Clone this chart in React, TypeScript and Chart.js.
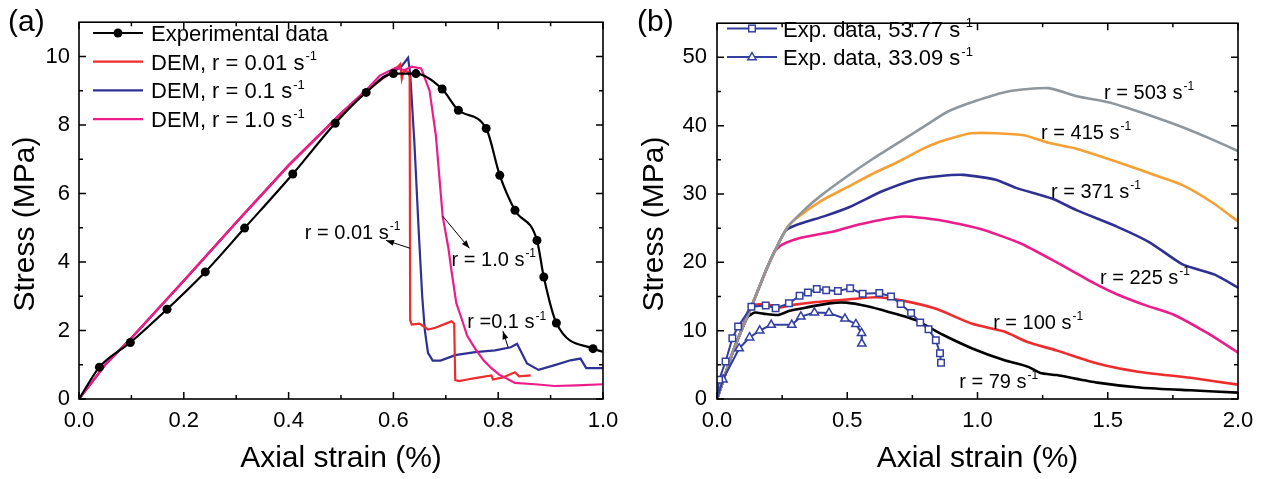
import React, { useEffect, useRef } from 'react';
import { Chart, registerables } from 'chart.js';

Chart.register(...registerables);

const FONT = '"Liberation Sans", Arial, Helvetica, sans-serif';

const RED = '#ee2c2c';
const BLUE = '#2e3192';
const PINK = '#ec1c8c';
const GRAY = '#8f979c';
const ORANGE = '#f5a034';
const EXP_BLUE = '#3340a0';

// ---------------- Panel (a) ----------------
const A_X_MAJOR = [0, 0.2, 0.4, 0.6, 0.8, 1.0];
const A_X_MINOR = [0.1, 0.3, 0.5, 0.7, 0.9];
const A_Y_MAJOR = [0, 2, 4, 6, 8, 10];
const A_Y_MINOR = [1, 3, 5, 7, 9];

const EXP_A_X = [0, 0.039, 0.098, 0.168, 0.241, 0.316, 0.408, 0.489, 0.548, 0.6, 0.643, 0.693, 0.724, 0.777, 0.803, 0.832, 0.874, 0.887, 0.911, 0.981, 1.0];
const EXP_A_Y = [0, 0.93, 1.65, 2.62, 3.71, 4.99, 6.57, 8.05, 8.95, 9.5, 9.5, 9.05, 8.43, 7.9, 6.53, 5.51, 4.63, 3.56, 2.22, 1.47, 1.38];

const DEM001_X = [0, 0.02, 0.05, 0.1, 0.2, 0.3, 0.4, 0.5, 0.55, 0.58, 0.6, 0.613, 0.616, 0.62, 0.628, 0.631, 0.632, 0.635, 0.65, 0.666, 0.68, 0.7, 0.711, 0.716, 0.718, 0.726, 0.741, 0.756, 0.787, 0.79, 0.809, 0.832, 0.84, 0.862];
const DEM001_Y = [0, 0.4, 1.0, 1.78, 3.45, 5.15, 6.82, 8.33, 9.0, 9.36, 9.56, 9.77, 9.35, 9.6, 9.55, 9.4, 2.3, 2.17, 2.2, 2.03, 2.08, 2.2, 2.27, 2.2, 0.55, 0.52, 0.57, 0.61, 0.69, 0.57, 0.63, 0.78, 0.66, 0.69];

const DEM01_X = [0, 0.02, 0.05, 0.1, 0.2, 0.3, 0.4, 0.5, 0.55, 0.58, 0.6, 0.615, 0.628, 0.632, 0.64, 0.648, 0.655, 0.66, 0.666, 0.675, 0.69, 0.718, 0.756, 0.794, 0.824, 0.836, 0.855, 0.877, 0.908, 0.938, 0.957, 0.968, 1.0];
const DEM01_Y = [0, 0.4, 1.0, 1.78, 3.45, 5.15, 6.82, 8.33, 9.0, 9.4, 9.55, 9.7, 9.96, 9.5, 7.5, 5.0, 3.0, 2.0, 1.35, 1.12, 1.12, 1.28, 1.37, 1.42, 1.51, 1.61, 1.04, 0.85, 0.99, 1.13, 1.18, 0.9, 0.9];

const DEM1_X = [0, 0.02, 0.05, 0.1, 0.2, 0.3, 0.4, 0.5, 0.55, 0.574, 0.606, 0.62, 0.635, 0.653, 0.657, 0.669, 0.681, 0.694, 0.705, 0.711, 0.72, 0.73, 0.741, 0.756, 0.772, 0.787, 0.802, 0.832, 0.87, 0.908, 0.95, 1.0];
const DEM1_Y = [0, 0.4, 1.0, 1.78, 3.45, 5.15, 6.82, 8.35, 9.05, 9.44, 9.68, 9.6, 9.7, 9.65, 9.49, 9.0, 7.7, 5.34, 4.4, 3.73, 2.8, 2.35, 1.84, 1.47, 1.13, 0.9, 0.71, 0.47, 0.43, 0.38, 0.4, 0.43];

// ---------------- Panel (b) ----------------
const B_X_MAJOR = [0, 0.5, 1.0, 1.5, 2.0];
const B_X_MINOR = [0.25, 0.75, 1.25, 1.75];
const B_Y_MAJOR = [0, 10, 20, 30, 40, 50];
const B_Y_MINOR = [5, 15, 25, 35, 45];

const R503_X = [0, 0.03, 0.06, 0.093, 0.132, 0.19, 0.268, 0.33, 0.4, 0.5, 0.6, 0.7, 0.8, 0.883, 0.992, 1.117, 1.273, 1.382, 1.506, 1.6, 1.693, 1.8, 1.9, 2.0];
const R503_Y = [0, 3.4, 6.8, 10.0, 13.5, 19.0, 25.0, 27.5, 29.8, 32.6, 35.2, 37.6, 40.0, 42.0, 43.6, 45.0, 45.5, 44.3, 43.4, 42.3, 41.1, 39.6, 38.0, 36.3];

const R415_X = [0, 0.03, 0.06, 0.093, 0.132, 0.19, 0.268, 0.3, 0.4, 0.5, 0.6, 0.7, 0.79, 0.852, 0.93, 0.977, 1.07, 1.179, 1.273, 1.382, 1.537, 1.693, 1.787, 1.9, 2.0];
const R415_Y = [0, 3.4, 6.8, 10.0, 13.5, 19.0, 25.0, 26.3, 29.0, 31.0, 33.0, 34.8, 36.6, 37.6, 38.5, 38.9, 38.9, 38.6, 37.5, 36.6, 34.7, 32.6, 31.3, 28.8, 26.0];

const R371_X = [0, 0.03, 0.06, 0.093, 0.132, 0.19, 0.262, 0.3, 0.416, 0.509, 0.634, 0.759, 0.85, 0.946, 1.07, 1.148, 1.288, 1.382, 1.537, 1.662, 1.787, 1.911, 2.0];
const R371_Y = [0, 3.4, 6.8, 10.0, 13.5, 19.0, 24.6, 25.4, 26.8, 28.1, 30.4, 32.1, 32.6, 32.8, 32.1, 30.9, 29.3, 27.6, 25.2, 22.9, 19.7, 18.2, 16.3];

const R225_X = [0, 0.03, 0.06, 0.093, 0.132, 0.19, 0.221, 0.25, 0.322, 0.447, 0.54, 0.712, 0.852, 1.008, 1.164, 1.304, 1.46, 1.537, 1.646, 1.755, 1.88, 2.0];
const R225_Y = [0, 3.4, 6.8, 10.0, 13.5, 19.0, 21.6, 22.6, 23.6, 24.5, 25.5, 26.7, 26.2, 24.9, 22.8, 20.0, 16.7, 15.3, 13.7, 12.3, 9.7, 6.8];

const R100_X = [0, 0.03, 0.06, 0.093, 0.118, 0.138, 0.188, 0.239, 0.278, 0.381, 0.509, 0.611, 0.713, 0.841, 0.98, 1.1, 1.195, 1.304, 1.46, 1.616, 1.818, 2.0];
const R100_Y = [0, 3.4, 6.8, 10.0, 12.7, 13.7, 13.9, 13.4, 13.7, 14.2, 14.6, 14.9, 14.4, 13.2, 11.0, 9.9, 8.3, 7.1, 5.2, 4.0, 3.1, 2.1];

const R79_X = [0, 0.03, 0.06, 0.093, 0.118, 0.145, 0.177, 0.235, 0.279, 0.343, 0.432, 0.496, 0.573, 0.662, 0.765, 0.867, 0.98, 1.101, 1.195, 1.241, 1.304, 1.46, 1.631, 1.818, 2.0];
const R79_Y = [0, 3.4, 6.8, 10.0, 12.0, 12.65, 12.5, 12.3, 12.9, 13.4, 14.0, 14.1, 13.6, 12.7, 11.5, 9.4, 7.4, 5.7, 4.7, 3.8, 3.5, 2.4, 1.65, 1.27, 0.94];

const SQ_X = [0, 0.008, 0.033, 0.059, 0.081, 0.132, 0.187, 0.225, 0.276, 0.317, 0.349, 0.383, 0.419, 0.464, 0.511, 0.559, 0.623, 0.668, 0.705, 0.745, 0.78, 0.812, 0.84, 0.856, 0.86];
const SQ_Y = [0, 2.8, 5.5, 8.9, 10.6, 13.5, 13.7, 13.3, 14.0, 15.1, 15.6, 16.1, 15.9, 15.8, 16.2, 15.4, 15.5, 15.0, 13.9, 12.6, 11.2, 10.2, 8.6, 6.7, 5.3];

const TRI_X = [0, 0.023, 0.085, 0.125, 0.164, 0.208, 0.287, 0.322, 0.374, 0.43, 0.491, 0.533, 0.555, 0.556];
const TRI_Y = [0, 2.85, 7.4, 9.0, 10.0, 10.85, 10.85, 12.05, 12.65, 12.6, 11.75, 10.95, 9.65, 8.1];

// ---------------- helpers ----------------
const pts = (xs: number[], ys: number[]) => xs.map((x, i) => ({ x, y: ys[i] }));

function drawRich(ctx: CanvasRenderingContext2D, x: number, baseline: number, main: string, sup: string | undefined, size: number, align: 'left' | 'center' = 'left') {
  ctx.textBaseline = 'alphabetic';
  ctx.textAlign = 'left';
  ctx.font = `${size}px ${FONT}`;
  const w1 = ctx.measureText(main).width;
  const ss = Math.round(size * 0.6);
  ctx.font = `${ss}px ${FONT}`;
  const w2 = sup ? ctx.measureText(sup).width + 1 : 0;
  const x0 = align === 'center' ? x - (w1 + w2) / 2 : x;
  ctx.font = `${size}px ${FONT}`;
  ctx.fillText(main, x0, baseline);
  if (sup) {
    ctx.font = `${ss}px ${FONT}`;
    ctx.fillText(sup, x0 + w1 + 1, baseline - size * 0.42);
  }
}

function drawArrow(ctx: CanvasRenderingContext2D, x1: number, y1: number, x2: number, y2: number) {
  ctx.lineWidth = 1;
  ctx.beginPath();
  ctx.moveTo(x1, y1);
  ctx.lineTo(x2, y2);
  ctx.stroke();
  const a = Math.atan2(y2 - y1, x2 - x1);
  const L = 8, W = 3;
  const c = Math.cos(a), s = Math.sin(a);
  ctx.beginPath();
  ctx.moveTo(x2, y2);
  ctx.lineTo(x2 - L * c + W * s, y2 - L * s - W * c);
  ctx.lineTo(x2 - L * c - W * s, y2 - L * s + W * c);
  ctx.closePath();
  ctx.fill();
}

function drawMarker(ctx: CanvasRenderingContext2D, kind: string, x: number, y: number, color: string) {
  ctx.save();
  if (kind === 'circle') {
    ctx.fillStyle = color;
    ctx.beginPath();
    ctx.arc(x, y, 4.5, 0, Math.PI * 2);
    ctx.fill();
  } else if (kind === 'rect') {
    ctx.fillStyle = '#fff';
    ctx.strokeStyle = color;
    ctx.lineWidth = 1.5;
    ctx.fillRect(x - 3.3, y - 3.3, 6.6, 6.6);
    ctx.strokeRect(x - 3.3, y - 3.3, 6.6, 6.6);
  } else if (kind === 'triangle') {
    ctx.fillStyle = '#fff';
    ctx.strokeStyle = color;
    ctx.lineWidth = 1.5;
    ctx.beginPath();
    ctx.moveTo(x, y - 4.5);
    ctx.lineTo(x + 4.2, y + 2.8);
    ctx.lineTo(x - 4.2, y + 2.8);
    ctx.closePath();
    ctx.fill();
    ctx.stroke();
  }
  ctx.restore();
}

const decorPlugin = {
  id: 'decor',
  afterDraw(chart: any, _args: any, o: any) {
    const { ctx, chartArea: ca } = chart;
    const sx = chart.scales.x;
    const sy = chart.scales.y;
    ctx.save();
    ctx.strokeStyle = '#000';
    ctx.fillStyle = '#000';
    // ticks
    const tickX = (vals: number[], len: number) => {
      ctx.beginPath();
      vals.forEach((v) => {
        const p = sx.getPixelForValue(v);
        ctx.moveTo(p, ca.bottom);
        ctx.lineTo(p, ca.bottom - len);
        ctx.moveTo(p, ca.top);
        ctx.lineTo(p, ca.top + len);
      });
      ctx.stroke();
    };
    const tickY = (vals: number[], len: number) => {
      ctx.beginPath();
      vals.forEach((v) => {
        const p = sy.getPixelForValue(v);
        ctx.moveTo(ca.left, p);
        ctx.lineTo(ca.left + len, p);
        ctx.moveTo(ca.right, p);
        ctx.lineTo(ca.right - len, p);
      });
      ctx.stroke();
    };
    ctx.lineWidth = 1.5;
    tickX(o.xMajor, 7);
    tickX(o.xMinor, 4);
    tickY(o.yMajor, 7);
    tickY(o.yMinor, 4);
    // frame
    ctx.lineWidth = 1.6;
    ctx.strokeRect(ca.left, ca.top, ca.right - ca.left, ca.bottom - ca.top);

    // legend
    o.legend.forEach((it: any, i: number) => {
      const ds = chart.data.datasets[it.ds];
      const cy = o.legendY0 + i * o.legendDy;
      ctx.strokeStyle = ds.borderColor;
      ctx.lineWidth = ds.borderWidth;
      ctx.beginPath();
      ctx.moveTo(o.legendX0, cy);
      ctx.lineTo(o.legendX1, cy);
      ctx.stroke();
      if (it.marker) drawMarker(ctx, it.marker, (o.legendX0 + o.legendX1) / 2, cy, ds.borderColor);
      ctx.fillStyle = '#000';
      drawRich(ctx, o.legendTextX, cy + 8, it.main, it.sup, 22);
    });

    // annotations
    ctx.strokeStyle = '#000';
    ctx.fillStyle = '#000';
    o.annotations.forEach((a: any) => {
      const px = sx.getPixelForValue(a.x);
      const py = sy.getPixelForValue(a.y);
      drawRich(ctx, px, py + 7, a.main, a.sup, 20);
      if (a.arrow) {
        drawArrow(ctx, sx.getPixelForValue(a.arrow[0]), sy.getPixelForValue(a.arrow[1]), sx.getPixelForValue(a.arrow[2]), sy.getPixelForValue(a.arrow[3]));
      }
    });

    // axis titles
    ctx.fillStyle = '#000';
    ctx.font = `30px ${FONT}`;
    ctx.textAlign = 'center';
    ctx.textBaseline = 'alphabetic';
    ctx.fillText(o.xTitle, (ca.left + ca.right) / 2, 467);
    ctx.save();
    ctx.translate(o.yTitleX, o.yTitleY);
    ctx.rotate(-Math.PI / 2);
    ctx.textBaseline = 'middle';
    ctx.fillText(o.yTitle, 0, 0);
    ctx.restore();
    // panel label
    ctx.textAlign = 'left';
    ctx.textBaseline = 'alphabetic';
    ctx.fillText(o.panel, o.panelX, 31);
    ctx.restore();
  },
};

function makeScales(xMin: number, xMax: number, yMin: number, yMax: number, xTicks: number[], yTicks: number[], yWidth: number, yPad: number, xDigits: number) {
  return {
    x: {
      type: 'linear',
      min: xMin,
      max: xMax,
      afterFit: (s: any) => {
        s.height = 80;
      },
      afterBuildTicks: (s: any) => {
        s.ticks = xTicks.map((v) => ({ value: v }));
      },
      ticks: {
        color: '#000',
        font: { size: 22, family: FONT },
        padding: 9,
        maxRotation: 0,
        autoSkip: false,
        callback: (v: any) => Number(v).toFixed(xDigits),
      },
      grid: { display: false, drawTicks: false },
      border: { display: false },
    },
    y: {
      type: 'linear',
      min: yMin,
      max: yMax,
      afterFit: (s: any) => {
        s.width = yWidth;
      },
      afterBuildTicks: (s: any) => {
        s.ticks = yTicks.map((v) => ({ value: v }));
      },
      ticks: {
        color: '#000',
        font: { size: 22, family: FONT },
        padding: yPad,
        autoSkip: false,
        callback: (v: any) => String(v),
      },
      grid: { display: false, drawTicks: false },
      border: { display: false },
    },
  };
}

function configA(): any {
  const circleR = EXP_A_X.map((_, i) => (i === 0 || i === EXP_A_X.length - 1 ? 0 : 4.5));
  return {
    type: 'line',
    data: {
      datasets: [
        {
          label: 'Experimental data',
          data: pts(EXP_A_X, EXP_A_Y),
          borderColor: '#000',
          backgroundColor: '#000',
          borderWidth: 2.2,
          pointRadius: circleR,
          pointBackgroundColor: '#000',
          pointBorderWidth: 0,
          cubicInterpolationMode: 'monotone',
        },
        { label: 'DEM, r = 1.0', data: pts(DEM1_X, DEM1_Y), borderColor: PINK, borderWidth: 2.2, pointRadius: 0, tension: 0 },
        { label: 'DEM, r = 0.01', data: pts(DEM001_X, DEM001_Y), borderColor: RED, borderWidth: 2.2, pointRadius: 0, tension: 0 },
        { label: 'DEM, r = 0.1', data: pts(DEM01_X, DEM01_Y), borderColor: BLUE, borderWidth: 2.2, pointRadius: 0, tension: 0 },
      ],
    },
    options: {
      animation: false,
      responsive: false,
      maintainAspectRatio: false,
      layout: { padding: { left: 0, right: 27, top: 10, bottom: 0 } },
      plugins: {
        legend: { display: false },
        tooltip: { enabled: false },
        decor: {
          xMajor: A_X_MAJOR,
          xMinor: A_X_MINOR,
          yMajor: A_Y_MAJOR,
          yMinor: A_Y_MINOR,
          legendX0: 93,
          legendX1: 143,
          legendTextX: 151,
          legendY0: 33,
          legendDy: 28.7,
          legend: [
            { ds: 0, main: 'Experimental data', marker: 'circle' },
            { ds: 2, main: 'DEM, r = 0.01 s', sup: '-1' },
            { ds: 3, main: 'DEM, r = 0.1 s', sup: '-1' },
            { ds: 1, main: 'DEM, r = 1.0 s', sup: '-1' },
          ],
          annotations: [
            { x: 0.431, y: 4.88, main: 'r = 0.01 s', sup: '-1', arrow: [0.632, 4.4, 0.586, 4.63] },
            { x: 0.711, y: 4.1, main: 'r = 1.0 s', sup: '-1', arrow: [0.694, 5.34, 0.745, 4.4] },
            { x: 0.741, y: 2.27, main: 'r =0.1 s', sup: '-1', arrow: [0.819, 1.51, 0.809, 1.98] },
          ],
          xTitle: 'Axial strain (%)',
          yTitle: 'Stress (MPa)',
          yTitleX: 26,
          yTitleY: 224,
          panel: '(a)',
          panelX: 8,
        },
      },
      scales: makeScales(0, 1, 0, 11, A_X_MAJOR, A_Y_MAJOR, 79, 9, 1),
    },
    plugins: [decorPlugin],
  };
}

function configB(): any {
  const sqR = SQ_X.map((_, i) => (i === 0 ? 0 : 4.6));
  const triR = TRI_X.map((_, i) => (i === 0 ? 0 : 4.8));
  const line = (label: string, xs: number[], ys: number[], color: string) => ({
    label,
    data: pts(xs, ys),
    borderColor: color,
    borderWidth: 2.6,
    pointRadius: 0,
    tension: 0.2,
  });
  return {
    type: 'line',
    data: {
      datasets: [
        {
          label: 'Exp. data, 53.77',
          data: pts(SQ_X, SQ_Y),
          borderColor: EXP_BLUE,
          borderWidth: 2,
          pointStyle: 'rect',
          pointRadius: sqR,
          pointBackgroundColor: '#fff',
          pointBorderColor: EXP_BLUE,
          pointBorderWidth: 1.5,
        },
        {
          label: 'Exp. data, 33.09',
          data: pts(TRI_X, TRI_Y),
          borderColor: EXP_BLUE,
          borderWidth: 2,
          pointStyle: 'triangle',
          pointRadius: triR,
          pointBackgroundColor: '#fff',
          pointBorderColor: EXP_BLUE,
          pointBorderWidth: 1.5,
        },
        line('r = 503', R503_X, R503_Y, GRAY),
        line('r = 415', R415_X, R415_Y, ORANGE),
        line('r = 371', R371_X, R371_Y, BLUE),
        line('r = 225', R225_X, R225_Y, PINK),
        line('r = 79', R79_X, R79_Y, '#000'),
        line('r = 100', R100_X, R100_Y, RED),
      ],
    },
    options: {
      animation: false,
      responsive: false,
      maintainAspectRatio: false,
      layout: { padding: { left: 0, right: 31, top: 10, bottom: 0 } },
      plugins: {
        legend: { display: false },
        tooltip: { enabled: false },
        decor: {
          xMajor: B_X_MAJOR,
          xMinor: B_X_MINOR,
          yMajor: B_Y_MAJOR,
          yMinor: B_Y_MINOR,
          legendX0: 97,
          legendX1: 147,
          legendTextX: 153,
          legendY0: 28.5,
          legendDy: 28.5,
          legend: [
            { ds: 0, main: 'Exp. data, 53.77 s', sup: '-1', marker: 'rect' },
            { ds: 1, main: 'Exp. data, 33.09 s', sup: '-1', marker: 'triangle' },
          ],
          annotations: [
            { x: 1.486, y: 45.0, main: 'r = 503 s', sup: '-1' },
            { x: 1.244, y: 39.1, main: 'r = 415 s', sup: '-1' },
            { x: 1.282, y: 30.5, main: 'r = 371 s', sup: '-1' },
            { x: 1.47, y: 17.9, main: 'r = 225 s', sup: '-1' },
            { x: 1.06, y: 11.3, main: 'r = 100 s', sup: '-1' },
            { x: 0.93, y: 2.7, main: 'r = 79 s', sup: '-1' },
          ],
          xTitle: 'Axial strain (%)',
          yTitle: 'Stress (MPa)',
          yTitleX: 25,
          yTitleY: 224,
          panel: '(b)',
          panelX: 7,
        },
      },
      scales: makeScales(0, 2, 0, 55, B_X_MAJOR, B_Y_MAJOR, 87, 10, 1),
    },
    plugins: [decorPlugin],
  };
}

function Panel({ make, left, width }: { make: () => any; left: number; width: number }) {
  const ref = useRef<HTMLCanvasElement>(null);
  useEffect(() => {
    const chart = new Chart(ref.current as HTMLCanvasElement, make());
    return () => chart.destroy();
  }, [make]);
  return (
    <canvas
      ref={ref}
      width={width}
      height={479}
      style={{ position: 'absolute', left, top: 0, width, height: 479, display: 'block' }}
    />
  );
}

export default function App() {
  return (
    <div style={{ position: 'absolute', left: 0, top: 0, width: 1269, height: 479, background: '#fff', overflow: 'hidden' }}>
      <Panel make={configA} left={0} width={630} />
      <Panel make={configB} left={630} width={639} />
    </div>
  );
}
